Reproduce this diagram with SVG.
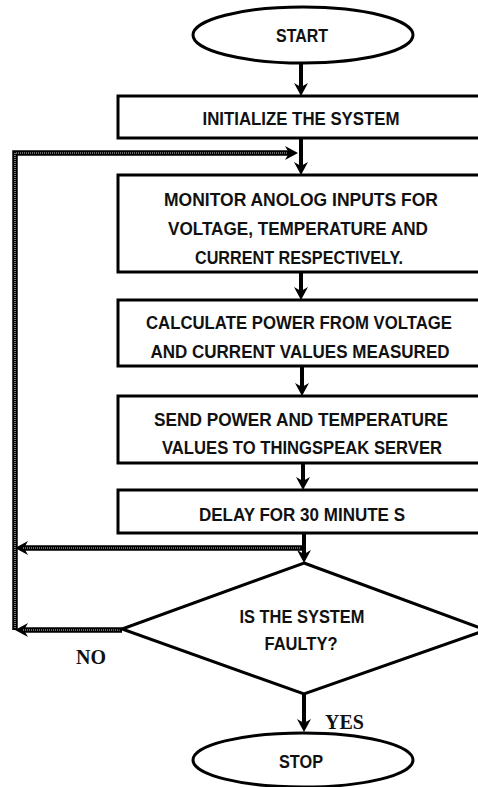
<svg xmlns="http://www.w3.org/2000/svg" width="478" height="787" viewBox="0 0 478 787">
<style>
.shape{fill:#fff;stroke:#000;stroke-width:3}
.t{font-family:"Liberation Sans",Arial,sans-serif;font-weight:bold;font-size:18px;fill:#111;text-anchor:middle}
.lbl{font-family:"Liberation Serif","Times New Roman",serif;font-weight:bold;font-size:20px;fill:#111}
.c{fill:none;stroke:#000;stroke-width:4}
.lo{fill:none;stroke:#000;stroke-width:5.5}
.li{fill:none;stroke:#ccc;stroke-width:1.2;stroke-dasharray:1 1}
</style>
<defs>
<marker id="ah" viewBox="0 0 13 14" refX="5" refY="7" markerWidth="13" markerHeight="14" markerUnits="userSpaceOnUse" orient="auto">
<path d="M0,0 L13,7 L0,14 L4,7 Z" fill="#000"/>
</marker>
</defs>
<rect width="478" height="787" fill="#fff"/>
<g id="connectors">
<path class="c" d="M301,63 V88" marker-end="url(#ah)"/>
<path class="c" d="M301,138 V167" marker-end="url(#ah)"/>
<path class="c" d="M301,272 V292" marker-end="url(#ah)"/>
<path class="c" d="M302,366 V388" marker-end="url(#ah)"/>
<path class="c" d="M303,463 V482" marker-end="url(#ah)"/>
<path class="c" d="M304,533 V555" marker-end="url(#ah)"/>
<path class="c" d="M304,694 V724" marker-end="url(#ah)"/>
<path class="lo" d="M303,548 H23" marker-end="url(#ah)"/>
<path class="lo" d="M122,630 H23" marker-end="url(#ah)"/>
<path class="lo" d="M15,630 V153 H290" marker-end="url(#ah)"/>
<path class="li" d="M300,548 H22 M120,630 H22 M15,628 V153 H288"/>
</g>
<g id="start">
<ellipse class="shape" cx="303" cy="35" rx="110" ry="28"/>
<text class="t" x="302" y="42" textLength="52" lengthAdjust="spacingAndGlyphs">START</text>
</g>
<g id="init">
<rect class="shape" x="118" y="96" width="366" height="42"/>
<text class="t" x="301" y="125" textLength="197" lengthAdjust="spacingAndGlyphs">INITIALIZE THE SYSTEM</text>
</g>
<g id="monitor">
<rect class="shape" x="118" y="175" width="366" height="97"/>
<text class="t" x="301" y="206" textLength="274" lengthAdjust="spacingAndGlyphs">MONITOR ANOLOG INPUTS FOR</text>
<text class="t" x="298" y="235" textLength="260" lengthAdjust="spacingAndGlyphs">VOLTAGE, TEMPERATURE AND</text>
<text class="t" x="299" y="264" textLength="208" lengthAdjust="spacingAndGlyphs">CURRENT RESPECTIVELY.</text>
</g>
<g id="calc">
<rect class="shape" x="118" y="300" width="366" height="66"/>
<text class="t" x="299" y="329" textLength="306" lengthAdjust="spacingAndGlyphs">CALCULATE POWER FROM VOLTAGE</text>
<text class="t" x="300" y="358" textLength="299" lengthAdjust="spacingAndGlyphs">AND CURRENT VALUES MEASURED</text>
</g>
<g id="send">
<rect class="shape" x="118" y="396" width="366" height="67"/>
<text class="t" x="301" y="426" textLength="294" lengthAdjust="spacingAndGlyphs">SEND POWER AND TEMPERATURE</text>
<text class="t" x="302" y="454" textLength="280" lengthAdjust="spacingAndGlyphs">VALUES TO THINGSPEAK SERVER</text>
</g>
<g id="delay">
<rect class="shape" x="118" y="490" width="366" height="43"/>
<text class="t" x="302" y="521" textLength="206" lengthAdjust="spacingAndGlyphs">DELAY FOR 30 MINUTE S</text>
</g>
<g id="decision">
<polygon class="shape" points="304,563 486,630 304,694 122,629"/>
<text class="t" x="302" y="623" textLength="125" lengthAdjust="spacingAndGlyphs">IS THE SYSTEM</text>
<text class="t" x="301" y="650" textLength="73" lengthAdjust="spacingAndGlyphs">FAULTY?</text>
</g>
<g id="stop">
<ellipse class="shape" cx="303" cy="760" rx="110" ry="27"/>
<text class="t" x="301" y="768" textLength="44" lengthAdjust="spacingAndGlyphs">STOP</text>
</g>
<text class="lbl" x="76" y="664">NO</text>
<text class="lbl" x="325" y="729">YES</text>
</svg>
